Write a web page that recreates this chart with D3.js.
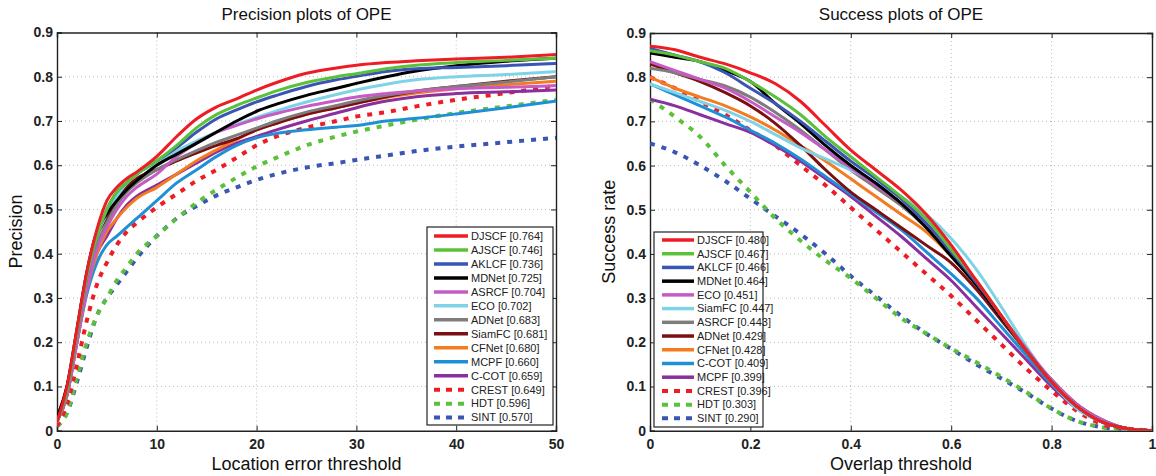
<!DOCTYPE html>
<html>
<head>
<meta charset="utf-8">
<script src="https://cdn.jsdelivr.net/npm/d3@7"></script>
<style>
  body { margin: 0; background: #fff; }
  text { font-family: "Liberation Sans", Arial, Helvetica, sans-serif; fill: #111; }
</style>
</head>
<body>
<script>
// ---- data ----
var precX = [0, 1, 2, 3, 4, 5, 6, 7, 8, 10, 12, 14, 16, 18, 20, 22, 25, 28, 30, 33, 36, 40, 45, 50];
var precNames = ["DJSCF", "AJSCF", "AKLCF", "MDNet", "ASRCF", "ECO", "ADNet", "SiamFC", "CFNet", "MCPF", "C-COT", "CREST", "HDT", "SINT"];
var precScores = ["0.764", "0.746", "0.736", "0.725", "0.704", "0.702", "0.683", "0.681", "0.680", "0.660", "0.659", "0.649", "0.596", "0.570"];

var precDJSCF = [.02, .10, .23, .36, .455, .52, .55, .57, .585, .62, .665, .705, .732, .75, .77, .787, .808, .82, .826, .832, .836, .84, .844, .85];
var precAJSCF = [.02, .09, .22, .35, .44, .50, .54, .56, .58, .61, .645, .685, .715, .735, .752, .768, .787, .80, .807, .818, .826, .832, .837, .842];
var precAKLCF = [.02, .09, .22, .35, .44, .50, .54, .56, .58, .61, .64, .675, .705, .725, .743, .758, .778, .793, .801, .812, .818, .821, .825, .83];
var precMDNet = [.03, .10, .23, .36, .45, .49, .52, .545, .565, .60, .625, .65, .675, .70, .722, .738, .758, .774, .785, .80, .813, .825, .835, .842];
var precASRCF = [.02, .08, .20, .32, .41, .46, .50, .53, .55, .58, .62, .65, .675, .69, .705, .717, .733, .746, .754, .762, .768, .773, .776, .78];
var precECO = [.02, .09, .22, .35, .44, .49, .53, .56, .58, .605, .632, .655, .675, .692, .708, .723, .743, .76, .77, .783, .793, .80, .805, .812];
var precADNet = [.02, .09, .21, .33, .42, .47, .51, .54, .56, .59, .613, .633, .652, .668, .684, .70, .72, .735, .745, .758, .768, .778, .788, .80];
var precSiamFC = [.03, .10, .22, .35, .44, .48, .52, .55, .57, .59, .61, .628, .645, .66, .68, .695, .715, .73, .74, .755, .767, .778, .79, .80];
var precCFNet = [.02, .08, .20, .32, .40, .45, .48, .505, .525, .55, .58, .61, .635, .658, .68, .695, .715, .73, .74, .753, .763, .773, .782, .79];
var precMCPF = [.02, .08, .20, .31, .38, .42, .44, .46, .48, .52, .56, .59, .62, .645, .662, .672, .68, .686, .69, .70, .706, .716, .73, .745];
var precCCOT = [.02, .08, .20, .32, .40, .44, .48, .51, .53, .555, .58, .605, .63, .65, .665, .68, .70, .718, .73, .745, .755, .762, .766, .77];
var precCREST = [.01, .06, .15, .25, .33, .38, .42, .45, .47, .505, .535, .565, .59, .617, .645, .665, .685, .70, .71, .72, .733, .748, .763, .78];
var precHDT = [.01, .04, .12, .20, .26, .30, .34, .37, .40, .44, .48, .515, .545, .572, .597, .617, .645, .665, .676, .69, .703, .718, .733, .748];
var precSINT = [.01, .04, .11, .19, .26, .30, .33, .36, .39, .44, .48, .508, .532, .55, .567, .58, .595, .605, .612, .622, .632, .642, .652, .662];

var succX = [0, .05, .1, .15, .2, .25, .3, .35, .4, .45, .5, .55, .6, .65, .7, .75, .8, .85, .9, .95, 1];
var succNames = ["DJSCF", "AJSCF", "AKLCF", "MDNet", "ECO", "SiamFC", "ASRCF", "ADNet", "CFNet", "C-COT", "MCPF", "CREST", "HDT", "SINT"];
var succScores = ["0.480", "0.467", "0.466", "0.464", "0.451", "0.447", "0.443", "0.429", "0.428", "0.409", "0.399", "0.396", "0.303", "0.290"];

var succDJSCF = [.87, .862, .845, .83, .81, .785, .745, .69, .635, .59, .545, .49, .42, .34, .26, .18, .11, .055, .02, .005, 0];
var succAJSCF = [.86, .85, .835, .82, .79, .755, .715, .665, .62, .575, .53, .48, .41, .34, .26, .18, .11, .055, .02, .005, 0];
var succAKLCF = [.865, .85, .835, .81, .775, .74, .70, .655, .61, .57, .525, .47, .405, .335, .26, .18, .11, .055, .02, .005, 0];
var succMDNet = [.855, .845, .835, .815, .79, .74, .695, .645, .60, .56, .515, .46, .395, .33, .255, .18, .11, .055, .02, .005, 0];
var succECO = [.835, .815, .795, .775, .745, .71, .675, .635, .595, .555, .515, .465, .405, .335, .26, .185, .115, .06, .025, .005, 0];
var succSiamFC = [.785, .765, .745, .725, .70, .67, .64, .615, .59, .56, .53, .49, .435, .365, .28, .19, .11, .05, .02, .005, 0];
var succASRCF = [.82, .81, .795, .78, .755, .72, .68, .635, .59, .55, .51, .46, .40, .33, .255, .18, .11, .055, .02, .005, 0];
var succADNet = [.83, .81, .79, .765, .735, .695, .645, .59, .54, .50, .46, .42, .38, .32, .25, .18, .115, .06, .025, .005, 0];
var succCFNet = [.80, .775, .755, .735, .71, .68, .645, .61, .57, .53, .49, .45, .395, .33, .255, .18, .11, .055, .02, .005, 0];
var succCCOT = [.785, .76, .735, .71, .68, .65, .615, .575, .535, .495, .455, .405, .355, .30, .235, .17, .105, .055, .02, .005, 0];
var succMCPF = [.75, .735, .715, .695, .675, .645, .61, .57, .53, .485, .44, .39, .34, .28, .22, .16, .10, .05, .02, .005, 0];
var succCREST = [.80, .775, .745, .715, .68, .645, .60, .555, .505, .455, .405, .355, .305, .25, .195, .14, .09, .045, .015, .005, 0];
var succHDT = [.75, .71, .665, .60, .54, .48, .43, .385, .345, .30, .255, .22, .186, .155, .122, .087, .05, .022, .008, .002, 0];
var succSINT = [.65, .63, .60, .565, .525, .485, .445, .40, .35, .305, .26, .22, .185, .15, .118, .085, .05, .022, .008, .002, 0];

var yTicks = [0, .1, .2, .3, .4, .5, .6, .7, .8, .9];
var precTicks = [0, 10, 20, 30, 40, 50];
var succTicks = [0, .2, .4, .6, .8, 1];

// ---- styles (same order in both legends) ----
var colors = ["#ee1c24", "#5cc13a", "#3a55b4", "#000000", "#c55cc5", "#7fd3e6", "#7d7d7d", "#7b0f12", "#f47b20", "#1f8fd6", "#8b2f9e", "#ee1c24", "#5cc13a", "#3a55b4"];
var dashed = [false, false, false, false, false, false, false, false, false, false, false, true, true, true];

var svg = d3.select("body").append("svg").attr("width", 1156).attr("height", 476);

function drawPanel(p) {
  var x = d3.scaleLinear().domain(p.xDomain).range([p.left, p.right]);
  var y = d3.scaleLinear().domain([0, 0.9]).range([p.bottom, p.top]);
  var g = svg.append("g");

  // grid
  g.selectAll(".gx").data(p.xTicks.slice(1, -1)).enter().append("line")
    .attr("x1", function(d) { return x(d); }).attr("x2", function(d) { return x(d); })
    .attr("y1", p.top).attr("y2", p.bottom)
    .style("stroke", "#bbb").style("stroke-dasharray", "1,3").style("stroke-width", 1);
  g.selectAll(".gy").data(yTicks.slice(1, -1)).enter().append("line")
    .attr("x1", p.left).attr("x2", p.right)
    .attr("y1", function(d) { return y(d); }).attr("y2", function(d) { return y(d); })
    .style("stroke", "#bbb").style("stroke-dasharray", "1,3").style("stroke-width", 1);

  // axes (MATLAB style: inward ticks, all four sides)
  var fmtY = function(d) { return d == 0 ? "0" : d3.format(".1f")(d); };
  g.append("g").attr("transform", "translate(0," + p.bottom + ")")
    .call(d3.axisBottom(x).tickValues(p.xTicks).tickSize(-5).tickPadding(8).tickFormat(p.fmtX));
  g.append("g").attr("transform", "translate(" + p.left + ",0)")
    .call(d3.axisLeft(y).tickValues(yTicks).tickSize(-5).tickPadding(4).tickFormat(fmtY));
  g.append("g").attr("transform", "translate(0," + p.top + ")")
    .call(d3.axisTop(x).tickValues(p.xTicks).tickSize(-5).tickFormat(""));
  g.append("g").attr("transform", "translate(" + p.right + ",0)")
    .call(d3.axisRight(y).tickValues(yTicks).tickSize(-5).tickFormat(""));
  g.selectAll(".domain").style("stroke", "#222").style("stroke-width", 1.4);
  g.selectAll(".tick line").style("stroke", "#222");
  g.selectAll(".tick text").style("font-size", "14px").style("font-weight", "bold").style("fill", "#222")
    .style("font-family", "'Liberation Sans', Arial, sans-serif");

  // curves
  var clipId = "clip" + p.id;
  svg.append("clipPath").attr("id", clipId).append("rect")
    .attr("x", p.left).attr("y", p.top - 2).attr("width", p.right - p.left + 2).attr("height", p.bottom - p.top + 2);
  var line = d3.line()
    .x(function(d) { return x(d[0]); })
    .y(function(d) { return y(d[1]); })
    .curve(d3.curveMonotoneX);
  var cg = g.append("g").attr("clip-path", "url(#" + clipId + ")");
  for (var i = p.series.length - 1; i >= 0; i--) {
    var pts = p.xs.map(function(v, k) { return [v, p.series[i][k]]; });
    cg.append("path").datum(pts).attr("d", line)
      .style("fill", "none")
      .style("stroke", colors[i])
      .style("stroke-width", dashed[i] ? 4 : 3)
      .style("stroke-dasharray", dashed[i] ? "5,7" : null)
      .style("stroke-linejoin", "round");
  }

  // titles
  g.append("text").attr("x", (p.left + p.right) / 2).attr("y", 20)
    .attr("text-anchor", "middle").style("font-size", "17px").text(p.title);
  g.append("text").attr("x", (p.left + p.right) / 2).attr("y", 470)
    .attr("text-anchor", "middle").style("font-size", "18px").text(p.xLabel);
  g.append("text").attr("transform", "translate(" + p.yLabelX + "," + ((p.top + p.bottom) / 2) + ") rotate(-90)")
    .attr("text-anchor", "middle").style("font-size", "18px").text(p.yLabel);

  // legend
  var L = p.legend;
  var lg = g.append("g");
  lg.append("rect").attr("x", L.x).attr("y", L.y).attr("width", L.w).attr("height", L.h)
    .style("fill", "#fff").style("stroke", "#222").style("stroke-width", 1.2);
  p.names.forEach(function(name, i) {
    var yy = L.y + L.first + i * L.step;
    lg.append("line").attr("x1", L.x + L.lineX0).attr("x2", L.x + L.lineX1)
      .attr("y1", yy).attr("y2", yy)
      .style("stroke", colors[i])
      .style("stroke-width", dashed[i] ? 4 : 3.5)
      .style("stroke-dasharray", dashed[i] ? "6,6" : null);
    lg.append("text").attr("x", L.x + L.textX).attr("y", yy).attr("dy", "0.35em")
      .style("font-size", "11px").style("fill", "#222")
      .text(name + " [" + p.scores[i] + "]");
  });
}

drawPanel({
  id: "p", left: 57, right: 556, top: 32.5, bottom: 430.7,
  xDomain: [0, 50], xTicks: precTicks, fmtX: d3.format("d"), xs: precX,
  series: [precDJSCF, precAJSCF, precAKLCF, precMDNet, precASRCF, precECO, precADNet, precSiamFC, precCFNet, precMCPF, precCCOT, precCREST, precHDT, precSINT],
  names: precNames, scores: precScores,
  title: "Precision plots of OPE", xLabel: "Location error threshold", yLabel: "Precision", yLabelX: 22,
  legend: { x: 427, y: 227, w: 126, h: 198, first: 9, step: 13.97, lineX0: 7, lineX1: 41, textX: 44 }
});

drawPanel({
  id: "s", left: 650, right: 1152, top: 33, bottom: 430.7,
  xDomain: [0, 1], xTicks: succTicks, fmtX: function(d) { return d == 0 ? "0" : d == 1 ? "1" : d3.format(".1f")(d); }, xs: succX,
  series: [succDJSCF, succAJSCF, succAKLCF, succMDNet, succECO, succSiamFC, succASRCF, succADNet, succCFNet, succCCOT, succMCPF, succCREST, succHDT, succSINT],
  names: succNames, scores: succScores,
  title: "Success plots of OPE", xLabel: "Overlap threshold", yLabel: "Success rate", yLabelX: 615,
  legend: { x: 654, y: 232, w: 109, h: 195, first: 8, step: 13.72, lineX0: 8, lineX1: 40, textX: 43 }
});
</script>
</body>
</html>
